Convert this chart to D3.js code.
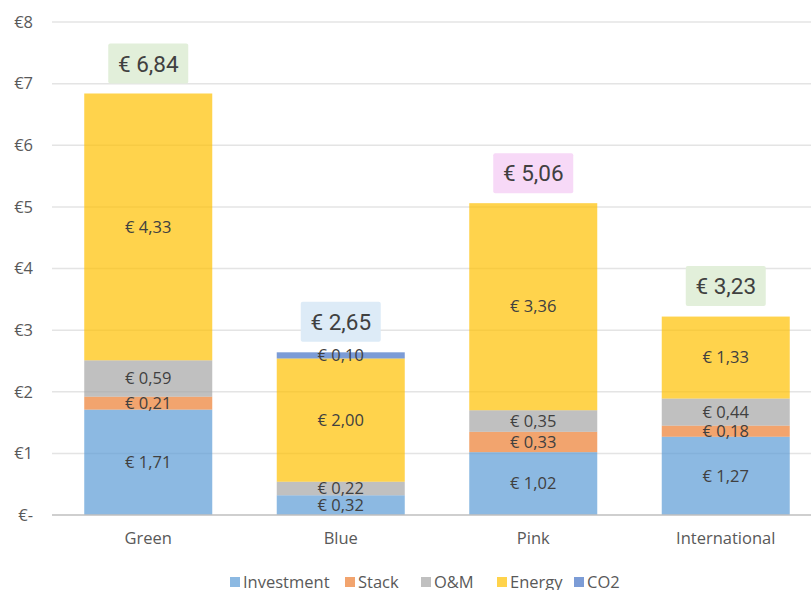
<!DOCTYPE html>
<html lang="en">
<head>
    <meta charset="UTF-8">
    <title>Cost breakdown</title>
    <script src="https://cdn.jsdelivr.net/npm/d3@7"></script>
    <style>
    html,body{
        margin:0;
        background:#fff;
    }
    svg text{
        font-family: "Open Sans", "Noto Sans", sans-serif;
    }
    svg text.total{
        font-family: Roboto, sans-serif;
    }
    </style>
</head>
<body>
<script>
    const categories = ["Green","Blue","Pink","International"];
    const seriesNames = ["Investment","Stack","O&M","Energy","CO2"];
    const investment = [1.71, 0.32, 1.02, 1.27];
    const stack = [0.21, 0, 0.33, 0.18];
    const om = [0.59, 0.22, 0.35, 0.44];
    const energy = [4.33, 2.00, 3.36, 1.33];
    const co2 = [0, 0.10, 0, 0];
    const totals = [6.84, 2.65, 5.06, 3.23];
    const yTicks = [0,1,2,3,4,5,6,7,8];

    const colors = ["#5B9BD5","#ED7D31","#A5A5A5","#FFC000","#4472C4"];
    const totalBg = ["#E2EFDA","#DDEBF7","#F7D9F7","#E2EFDA"];

    const width = 811, height = 590;
    const fmt = v => "€ " + v.toFixed(2).replace(".", ",");

    let rows = categories.map((c,i)=>({
        cat:c,
        Investment:investment[i],
        Stack:stack[i],
        "O&M":om[i],
        Energy:energy[i],
        CO2:co2[i]
    }));
    let stacked = d3.stack().keys(seriesNames)(rows);

    let svg = d3.select("body").append("svg")
                .attr("width",width)
                .attr("height",height);

    let x = d3.scaleBand().domain(categories).range([52,822]).paddingInner(0.335).paddingOuter(0.1675);
    let y = d3.scaleLinear().domain([0,8]).range([515,22]);

    // gridlines
    svg.append("g").selectAll("line")
        .data(yTicks.filter(t=>t>0))
        .join("line")
        .attr("x1",52).attr("x2",width)
        .attr("y1",d=>y(d)).attr("y2",d=>y(d))
        .attr("stroke","#e4e4e4").attr("stroke-width",1.5);

    // y tick labels
    svg.append("g").selectAll("text")
        .data(yTicks)
        .join("text")
        .attr("x",33).attr("y",d=>y(d))
        .attr("dy","0.35em")
        .attr("text-anchor","end")
        .attr("font-size",16.5)
        .attr("fill","#595959")
        .text(d=>d===0 ? "€-" : "€"+d);

    // bars
    let groups = svg.append("g").selectAll("g")
        .data(stacked)
        .join("g")
        .attr("fill",(d,i)=>colors[i])
        .attr("fill-opacity",0.7);

    groups.selectAll("rect")
        .data(d=>d.map(p=>({p,key:d.key})))
        .join("rect")
        .attr("x",d=>x(d.p.data.cat))
        .attr("width",x.bandwidth())
        .attr("y",d=>y(d.p[1]))
        .attr("height",d=>y(d.p[0])-y(d.p[1]));

    // axis line
    svg.append("line")
        .attr("x1",52).attr("x2",width)
        .attr("y1",y(0)).attr("y2",y(0))
        .attr("stroke","#bfbfbf").attr("stroke-width",1.5);

    // segment labels
    let labels = [];
    stacked.forEach(s=>s.forEach(p=>{
        let v = p.data[s.key];
        if(v>0) labels.push({cat:p.data.cat,v,mid:(p[0]+p[1])/2});
    }));
    svg.append("g").selectAll("text")
        .data(labels)
        .join("text")
        .attr("x",d=>x(d.cat)+x.bandwidth()/2)
        .attr("y",d=>y(d.mid))
        .attr("dy","0.35em")
        .attr("text-anchor","middle")
        .attr("font-size",16.5)
        .attr("fill","#404040")
        .text(d=>fmt(d.v));

    // total labels
    let tot = svg.append("g").selectAll("g")
        .data(categories.map((c,i)=>({c,v:totals[i],bg:totalBg[i]})))
        .join("g")
        .attr("transform",d=>`translate(${x(d.c)+x.bandwidth()/2},${y(d.v)-30})`);
    tot.append("rect")
        .attr("x",-40).attr("y",-20)
        .attr("width",80).attr("height",40)
        .attr("rx",2)
        .attr("fill",d=>d.bg);
    tot.append("text")
        .attr("class","total")
        .attr("text-anchor","middle")
        .attr("dy","0.36em")
        .attr("font-size",22.5)
        .attr("fill","#404040")
        .text(d=>fmt(d.v));

    // category labels
    svg.append("g").selectAll("text")
        .data(categories)
        .join("text")
        .attr("x",d=>x(d)+x.bandwidth()/2)
        .attr("y",538)
        .attr("dy","0.35em")
        .attr("text-anchor","middle")
        .attr("font-size",16.5)
        .attr("fill","#595959")
        .text(d=>d);

    // legend
    const legendX = [230,345,421,497,574];
    let leg = svg.append("g").selectAll("g")
        .data(seriesNames)
        .join("g")
        .attr("transform",(d,i)=>`translate(${legendX[i]},582)`);
    leg.append("rect")
        .attr("x",0).attr("y",-5)
        .attr("width",10).attr("height",10)
        .attr("fill",(d,i)=>colors[i])
        .attr("fill-opacity",0.7);
    leg.append("text")
        .attr("x",13)
        .attr("dy","0.35em")
        .attr("font-size",16.5)
        .attr("fill","#595959")
        .text(d=>d);
</script>
</body>
</html>
